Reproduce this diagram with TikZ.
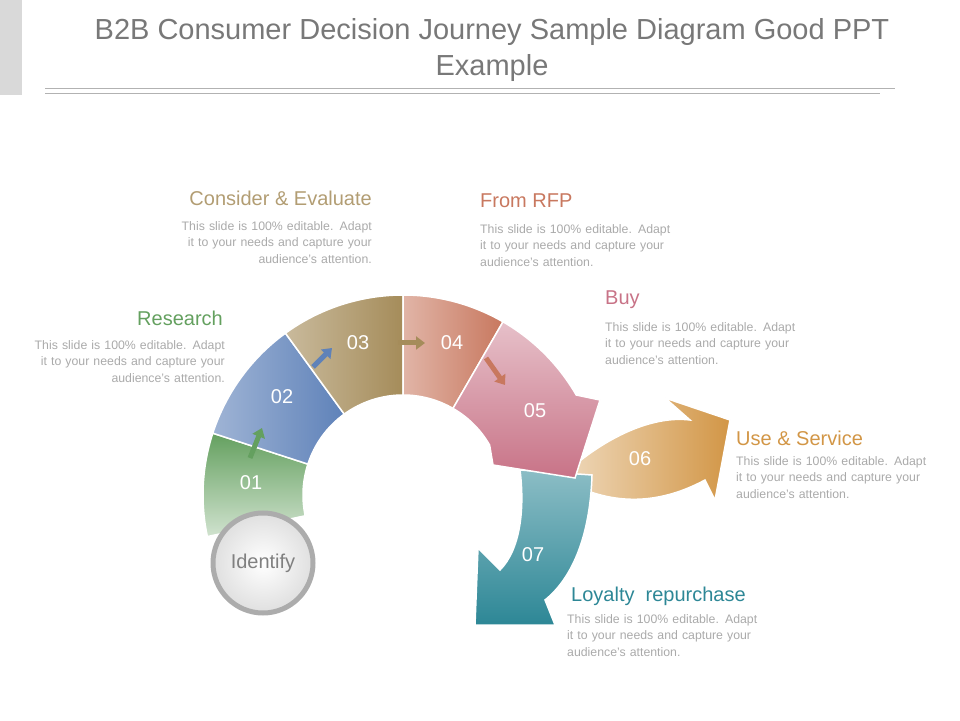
\documentclass[tikz,border=0pt]{standalone}
\usepackage{fontspec}
\setmainfont{Liberation Sans}
\usetikzlibrary{arrows.meta}
\definecolor{txtgray}{RGB}{170,170,170}
\definecolor{ttl}{RGB}{120,120,120}
\definecolor{cGreen}{RGB}{100,160,95}
\definecolor{cBlue}{RGB}{95,130,185}
\definecolor{cTan}{RGB}{165,140,90}
\definecolor{cRust}{RGB}{200,120,95}
\definecolor{cPink}{RGB}{200,115,135}
\definecolor{cOrange}{RGB}{210,150,70}
\definecolor{cTeal}{RGB}{45,135,150}
\tikzset{
 x=1pt,y=1pt,
 desc/.style={font=\fontsize{12.3}{16.5}\selectfont, text=txtgray, inner sep=0pt, text width=230pt},
 head/.style={font=\fontsize{20}{24}\selectfont, inner sep=0pt},
 num/.style={font=\fontsize{20}{24}\selectfont, text=white},
 seg/.style={draw=white, line width=1.5pt},
 conn/.style={line width=5pt, -{Triangle[width=13pt,length=9pt]}}
}
\begin{document}
\begin{tikzpicture}
\useasboundingbox (0,0) rectangle (960,720);
% title
\fill[gray!30] (0,625) rectangle (22,720);
\draw[gray!60] (45,632) -- (895,632);
\draw[gray!60] (45,627) -- (880,627);
\node[font=\fontsize{29}{36}\selectfont, text=ttl, align=center] (title) at (492,670) {B2B Consumer Decision Journey Sample Diagram Good PPT\\Example};
\coordinate (c) at (403,225);
\def\R{200}\def\r{100}
% 01
\shade[seg, top color=cGreen, bottom color=cGreen!30] ([shift={(c)}]162:\R) arc[start angle=162,end angle=192,radius=\R] -- ([shift={(c)}]192:\r) arc[start angle=192,end angle=162,radius=\r] -- cycle;
% 02
\shade[seg, left color=cBlue!60, right color=cBlue] ([shift={(c)}]126:\R) arc[start angle=126,end angle=162,radius=\R] -- ([shift={(c)}]162:\r) arc[start angle=162,end angle=126,radius=\r] -- cycle;
% 03
\shade[seg, left color=cTan!60, right color=cTan] ([shift={(c)}]90:\R) arc[start angle=90,end angle=126,radius=\R] -- ([shift={(c)}]126:\r) arc[start angle=126,end angle=90,radius=\r] -- cycle;
% 04
\shade[seg, left color=cRust!55, right color=cRust] ([shift={(c)}]60:\R) arc[start angle=60,end angle=90,radius=\R] -- ([shift={(c)}]90:\r) arc[start angle=90,end angle=60,radius=\r] -- cycle;
% 06
\shade[seg, left color=cOrange!35, right color=cOrange] (560,242) .. controls (600,280) and (650,305) .. (690,300) -- (665,322) -- (730,300) -- (715,220) -- (705,240) .. controls (640,205) and (590,225) .. cycle;
% 07
\shade[seg, top color=cTeal!55, bottom color=cTeal] (520,250) -- (592,245) .. controls (590,180) and (570,140) .. (545,120) -- (555,95) -- (475,95) -- (478,172) -- (500,150) .. controls (520,170) and (525,210) .. cycle;
% 05
\shade[seg, top color=cPink!45, bottom color=cPink] ([shift={(c)}]60:\R) arc[start angle=60,end angle=30,radius=\R] -- (600,320) -- (575,242) -- (493,255) -- ([shift={(c)}]30:\r) arc[start angle=30,end angle=60,radius=\r] -- cycle;
% connectors
\draw[conn, cGreen] (250,262) -- (262,292);
\draw[conn, cBlue] (313,353) -- (332,372);
\draw[conn, cTan] (398,377) -- (425,377);
\draw[conn, cRust] (486,362) -- (505,335);
% numbers
\node[num] (n1) at (251,237) {01};
\node[num] (n2) at (282,323) {02};
\node[num] (n3) at (358,377) {03};
\node[num] (n4) at (452,377) {04};
\node[num] (n5) at (535,309) {05};
\node[num] (n6) at (640,261) {06};
\node[num] (n7) at (533,165) {07};
% identify
\shade[inner color=white, outer color=gray!25, draw=gray!65, line width=5pt] (263,157) circle (50);
\node[font=\fontsize{20}{24}\selectfont, text=gray] (idf) at (263,157) {Identify};
% headings and descriptions
\node[head, text=cTan!85, anchor=east] (h3) at (372,522) {Consider \& Evaluate};
\node[desc, align=right, anchor=north east] (d3) at (372,499) {This slide is 100\% editable. Adapt\\it to your needs and capture your\\audience's attention.};
\node[head, text=cGreen, anchor=east] (h2) at (223,402) {Research};
\node[desc, align=right, anchor=north east] (d2) at (225,380) {This slide is 100\% editable. Adapt\\it to your needs and capture your\\audience's attention.};
\node[head, text=cRust, anchor=west] (h4) at (480,519) {From RFP};
\node[desc, align=left, anchor=north west] (d4) at (480,496) {This slide is 100\% editable. Adapt\\it to your needs and capture your\\audience's attention.};
\node[head, text=cPink, anchor=west] (h5) at (605,420) {Buy};
\node[desc, align=left, anchor=north west] (d5) at (605,398) {This slide is 100\% editable. Adapt\\it to your needs and capture your\\audience's attention.};
\node[head, text=cOrange, anchor=west] (h6) at (736,282) {Use \& Service};
\node[desc, align=left, anchor=north west] (d6) at (736,264) {This slide is 100\% editable. Adapt\\it to your needs and capture your\\audience's attention.};
\node[head, text=cTeal, anchor=west] (h7) at (571,124) {Loyalty\ \ repurchase};
\node[desc, align=left, anchor=north west] (d7) at (567,106) {This slide is 100\% editable. Adapt\\it to your needs and capture your\\audience's attention.};
\end{tikzpicture}
\end{document}
